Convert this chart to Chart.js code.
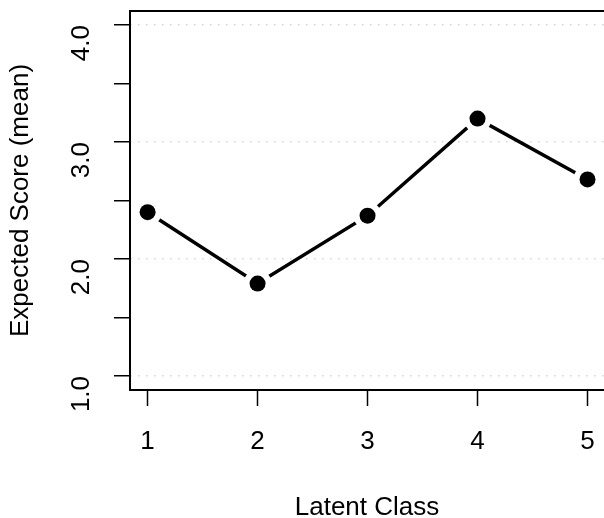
<!DOCTYPE html>
<html>
<head>
<meta charset="utf-8">
<script src="https://cdn.jsdelivr.net/npm/chart.js@4/dist/chart.umd.min.js"></script>
<style>
  html, body { margin: 0; padding: 0; background: #fff; }
  #wrap { width: 604px; height: 518px; }
</style>
</head>
<body>
<div id="wrap"><canvas id="classChart" width="604" height="518"></canvas></div>
<script>
const latentClasses = [1, 2, 3, 4, 5];
const meanScores = [2.40, 1.79, 2.37, 3.20, 2.68];
const xTickValues = [1, 2, 3, 4, 5];
const yTickValues = [1, 1.5, 2, 2.5, 3, 3.5, 4];
const yLabelValues = [1, 2, 3, 4];

const FONT = '"Liberation Sans", Arial, Helvetica, sans-serif';
const points = latentClasses.map((c, i) => ({ x: c, y: meanScores[i] }));

// no extra room for overflowing labels: plot region is fixed like R's
function noPad(s) {
  s.paddingLeft = 0; s.paddingRight = 0; s.paddingTop = 0; s.paddingBottom = 0;
}

// R style box around the plot region; its right side sits just past the canvas edge
const boxPlugin = {
  id: 'rbox',
  afterDraw(chart) {
    const { ctx, chartArea: a } = chart;
    ctx.save();
    ctx.strokeStyle = '#000';
    ctx.lineWidth = 2;
    ctx.strokeRect(a.left, a.top, a.right + 3 - a.left, a.bottom - a.top);
    ctx.restore();
  },
};

new Chart(document.getElementById('classChart'), {
  type: 'scatter',
  data: {
    datasets: [
      { data: points, showLine: true, borderColor: '#000', borderWidth: 3.5, pointRadius: 0, order: 3 },
      { data: points, pointRadius: 14, pointBackgroundColor: '#fff', pointBorderWidth: 0, order: 2 },
      { data: points, pointRadius: 8, pointBackgroundColor: '#000', pointBorderWidth: 0, order: 1 },
    ],
  },
  plugins: [boxPlugin],
  options: {
    responsive: false,
    animation: false,
    devicePixelRatio: 1,
    layout: { autoPadding: false, padding: { top: 11, right: 0, left: 0, bottom: 0 } },
    plugins: { legend: { display: false }, tooltip: { enabled: false } },
    scales: {
      x: {
        type: 'linear',
        min: 0.84,
        max: 5.15,
        afterBuildTicks: (s) => { s.ticks = xTickValues.map((v) => ({ value: v })); },
        afterFit: (s) => { s.height = 128; noPad(s); },
        border: { display: false },
        grid: { drawOnChartArea: false, drawTicks: true, tickLength: 16, tickWidth: 1.5, tickColor: '#000' },
        ticks: { color: '#000', font: { family: FONT, size: 26 }, padding: 20, maxRotation: 0, callback: (v) => String(v) },
        title: { display: true, text: 'Latent Class', color: '#000', font: { family: FONT, size: 26 }, padding: { top: 36, bottom: -5 } },
      },
      y: {
        type: 'linear',
        min: 0.88,
        max: 4.12,
        afterBuildTicks: (s) => { s.ticks = yTickValues.map((v) => ({ value: v })); },
        afterFit: (s) => { s.width = 130; noPad(s); },
        border: { display: false, dash: [1.5, 6.5] },
        grid: {
          color: (c) => (c.tick && yLabelValues.includes(c.tick.value) ? '#d3d3d3' : 'rgba(0,0,0,0)'),
          lineWidth: 1.5,
          drawTicks: true,
          tickLength: 16,
          tickWidth: 1.5,
          tickColor: '#000',
          tickBorderDash: [],
        },
        ticks: {
          color: '#000',
          font: { family: FONT, size: 26 },
          padding: 32,
          minRotation: 90,
          maxRotation: 90,
          callback: (v) => (yLabelValues.includes(v) ? v.toFixed(1) : ''),
        },
        title: { display: true, text: 'Expected Score (mean)', color: '#000', font: { family: FONT, size: 26 }, padding: { top: 5, bottom: 0 } },
      },
    },
  },
});
</script>
</body>
</html>
